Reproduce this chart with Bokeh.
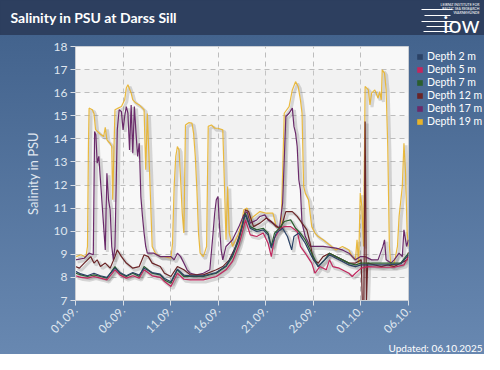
from bokeh.plotting import figure
from bokeh.layouts import column, row
from bokeh.models import ColumnDataSource, Range1d, FixedTicker, Label, Legend, LegendItem
from bokeh.transform import dodge
from bokeh.embed import file_html
from bokeh.resources import INLINE

# ---- data (days since 01.09., salinity PSU) ----
tick_days = [0, 5, 10, 15, 20, 25, 30, 35]
tick_labels = ["01.09.", "06.09.", "11.09.", "16.09.", "21.09.", "26.09.", "01.10.", "06.10."]
y_ticks = [7, 8, 9, 10, 11, 12, 13, 14, 15, 16, 17, 18]

names = ["Depth 2 m", "Depth 5 m", "Depth 7 m", "Depth 12 m", "Depth 17 m", "Depth 19 m"]
colors = ["#2b4266", "#c2275e", "#2a5e2e", "#6a2426", "#6a2a6a", "#e8b32a"]

t19 = [0.07, 0.58, 1.09, 1.26, 1.36, 1.43, 1.77, 1.94, 2.11, 2.62, 2.96, 3.13, 3.3, 3.64, 3.81, 3.91,
       4.05, 4.15, 4.49, 4.83, 5.17, 5.34, 5.51, 5.85, 6.02, 6.36, 6.7, 7.04, 7.21, 7.38, 7.55, 7.79,
       8.06, 8.4, 8.91, 9.35, 10.03, 10.2, 10.37, 10.54, 10.71, 10.88, 11.05, 11.22, 11.39, 11.56,
       11.9, 12.24, 12.41, 12.59, 12.76, 12.93, 13.1, 13.44, 13.78, 13.95, 14.29, 14.63, 14.97,
       15.48, 15.65, 15.82, 15.99, 16.16, 16.5, 16.84, 17.18, 17.52, 17.69, 18.03, 18.37, 18.71,
       19.39, 20.07, 20.75, 21.09, 21.6, 21.77, 21.94, 22.45, 22.79, 23.13, 23.4, 23.64, 23.81,
       23.98, 24.15, 24.49, 24.83, 25.17, 25.51, 26.02, 26.7, 27.38, 28.06, 28.74, 29.08, 29.42,
       29.59, 29.76, 29.93, 30.1, 30.27, 30.44, 30.78, 30.95, 31.12, 31.46, 31.8, 31.97, 32.14,
       32.24, 32.48, 32.65, 32.82, 32.99, 33.16, 33.5, 33.84, 34.01, 34.35, 34.52, 34.69, 34.86, 35.0]
s19 = [8.9, 8.98, 8.88, 9.34, 13.7, 15.33, 15.26, 15.1, 14.4, 14.2, 14.1, 14.5, 13.96, 13.8, 13.67, 11.36,
       13.7, 15.26, 15.33, 15.4, 15.69, 16.2, 16.34, 15.98, 15.69, 15.55, 15.47, 15.33, 15.26, 12.66, 15.1, 12.5,
       9.34, 9.05, 8.9, 8.9, 8.83, 9.48, 11.94, 13.24, 13.67, 13.52, 12.23, 10.78, 9.92, 14.6,
       14.7, 14.68, 14.25, 13.24, 11.79, 9.92, 9.05, 8.9, 9.34, 14.54, 14.6, 14.46, 14.46,
       14.39, 12.08, 9.63, 11.94, 9.92, 9.34, 9.63, 9.92, 10.49, 10.93, 11.0, 10.49, 10.64,
       10.85, 10.78, 10.78, 10.2, 10.13, 12.51, 15.11, 15.4, 16.12, 16.48, 16.27, 15.69, 15.11,
       11.94, 11.65, 11.36, 10.2, 9.92, 9.77, 9.63, 9.41, 9.19, 9.34, 9.19, 8.9, 8.76,
       9.63, 8.62, 11.65, 11.07, 9.34, 16.27, 16.12, 15.47, 15.98, 16.12, 15.76, 16.05, 15.69,
       16.99, 16.85, 16.12, 13.67, 9.34, 8.47, 8.62, 9.34, 10.64, 11.94, 13.81, 12.51, 9.92, 9.34]

t17 = [0.0, 0.92, 1.43, 1.87, 2.01, 2.14, 2.28, 2.45, 2.62, 2.96, 3.13, 3.3, 3.47, 3.64, 3.81, 3.98,
       4.15, 4.39, 4.59, 4.83, 5.0, 5.17, 5.34, 5.51, 5.68, 5.85, 6.02, 6.19, 6.36, 6.53, 6.7, 6.87,
       7.04, 7.21, 7.38, 7.55, 8.23, 8.91, 9.35, 10.03, 10.37, 10.71, 11.05, 11.39, 11.73, 12.07,
       12.75, 13.44, 14.12, 14.46, 14.63, 14.8, 14.97, 15.14, 15.31, 15.48, 15.82, 16.5, 17.18,
       17.69, 18.03, 18.37, 19.05, 19.39, 19.9, 20.24, 20.75, 21.43, 21.77, 22.11, 22.45, 22.79,
       22.96, 23.13, 23.3, 23.47, 23.64, 23.81, 24.15, 24.66, 25.51, 26.02, 27.38, 28.06, 28.74,
       29.42, 29.93, 30.44, 31.12, 31.8, 32.31, 32.48, 32.65, 33.16, 33.5, 34.01, 34.35, 34.52,
       34.8, 35.0]
s17 = [8.76, 8.83, 9.05, 8.98, 14.32, 14.17, 12.95, 13.24, 12.23, 10.2, 9.19, 12.51, 11.36, 10.93, 9.34, 8.76,
       9.34, 14.39, 15.26, 15.18, 14.39, 14.97, 15.4, 15.11, 13.52, 15.47, 13.38, 15.4, 14.25, 13.24, 13.81, 11.5,
       10.64, 9.92, 9.34, 9.05, 9.05, 8.9, 8.9, 8.9, 8.76, 9.05, 8.9, 8.62, 8.33, 8.18,
       8.11, 8.18, 8.33, 9.92, 10.78, 11.36, 11.5, 10.2, 9.19, 8.76, 9.34, 9.63, 10.2,
       10.71, 10.85, 10.35, 10.49, 10.64, 10.71, 10.49, 10.35, 10.13, 11.21, 14.97, 15.11, 15.33,
       14.54, 14.25, 13.67, 12.23, 11.79, 10.35, 9.77, 9.34, 9.34, 9.34, 9.27, 9.19, 9.05,
       8.76, 8.9, 8.9, 8.76, 8.76, 9.34, 9.63, 8.76, 8.62, 8.76, 9.05, 8.9, 10.06,
       9.34, 9.63]

t12 = [0.0, 0.41, 0.92, 1.26, 1.6, 1.94, 2.28, 2.62, 3.13, 3.64, 4.15, 4.39, 4.83, 5.34, 6.02, 6.7,
       7.21, 7.65, 8.06, 8.91, 9.35, 10.03, 10.71, 11.39, 12.07, 13.44, 14.8, 15.48, 16.16, 16.84,
       17.52, 17.86, 18.2, 18.71, 19.39, 20.07, 20.58, 21.09, 21.6, 22.11, 22.79, 23.3, 23.81,
       24.32, 24.66, 25.0, 25.51, 26.02, 26.7, 27.38, 28.06, 28.74, 29.42, 30.03, 30.14, 30.31,
       30.44, 30.58, 30.71, 31.46, 32.14, 32.82, 33.5, 34.18, 34.86, 35.0]
s12 = [8.47, 8.4, 8.62, 8.76, 8.9, 8.62, 8.76, 8.47, 8.62, 8.4, 8.9, 9.19, 8.9, 8.62, 8.4, 8.47,
       8.98, 8.9, 8.62, 8.47, 8.18, 8.04, 8.47, 8.33, 8.11, 8.11, 8.33, 8.47, 8.76, 9.34,
       10.2, 10.93, 10.85, 10.2, 10.35, 10.57, 10.42, 10.2, 10.13, 10.85, 10.85, 10.64, 10.35,
       10.06, 9.48, 8.76, 8.62, 8.9, 9.05, 8.9, 8.76, 8.62, 8.62, 8.76, 7.0, 7.0,
       14.75, 7.0, 8.62, 8.54, 8.47, 8.54, 8.47, 8.62, 8.76, 9.1]

t7 = [0.0, 0.58, 1.26, 1.94, 2.62, 3.3, 4.15, 4.66, 5.34, 6.02, 6.7, 7.21, 8.06, 8.91, 9.35, 10.03,
      10.71, 11.39, 12.07, 13.44, 14.8, 15.82, 16.5, 17.18, 17.69, 17.86, 18.37, 19.05, 19.73,
      20.24, 20.58, 20.92, 21.43, 21.94, 22.62, 23.13, 23.64, 24.15, 24.83, 25.51, 26.19, 26.7,
      27.38, 28.06, 28.74, 29.42, 30.03, 30.78, 31.46, 32.82, 34.18, 35.0]
s7 = [8.18, 8.11, 8.04, 8.11, 8.04, 7.97, 8.47, 8.18, 8.04, 8.18, 8.04, 8.47, 8.18, 8.11, 7.89, 7.75,
      8.33, 8.04, 8.04, 8.04, 8.18, 8.47, 8.9, 9.63, 10.49, 10.78, 10.2, 10.06, 10.13,
      9.92, 9.34, 9.92, 10.13, 10.42, 10.49, 10.13, 9.92, 9.63, 9.05, 8.47, 8.76, 9.05,
      8.9, 8.76, 8.62, 8.54, 8.62, 8.62, 8.62, 8.62, 8.62, 9.05]

t5 = [0.0, 0.58, 1.26, 1.94, 2.62, 3.3, 4.15, 4.66, 5.34, 6.02, 6.7, 7.21, 8.06, 8.91, 9.35, 10.03,
      10.71, 11.39, 12.07, 13.44, 14.8, 15.82, 16.5, 17.18, 17.69, 17.86, 18.37, 19.05, 19.73,
      20.24, 20.58, 20.92, 21.43, 21.94, 22.62, 23.3, 23.64, 24.15, 24.83, 25.17, 25.68, 26.36,
      26.7, 27.04, 27.72, 28.74, 29.08, 29.42, 30.03, 30.78, 32.14, 33.5, 34.52, 35.0]
s5 = [8.07, 8.0, 7.97, 8.04, 7.97, 7.89, 8.33, 8.11, 7.97, 8.07, 7.97, 8.33, 8.07, 8.0, 7.82, 7.61,
      8.18, 7.92, 7.89, 7.89, 8.04, 8.33, 8.69, 9.41, 10.2, 10.49, 9.84, 9.77, 9.92,
      9.48, 8.9, 9.7, 10.06, 10.2, 10.2, 9.99, 9.34, 9.05, 8.62, 8.18, 8.47, 8.33,
      8.76, 8.47, 8.4, 8.18, 8.04, 8.18, 8.4, 8.47, 8.44, 8.44, 8.54, 8.9]

t2 = [0.0, 0.58, 1.26, 1.94, 2.62, 3.3, 4.15, 4.66, 5.34, 6.02, 6.7, 7.21, 8.06, 8.91, 9.35, 10.03,
      10.71, 11.39, 12.07, 13.44, 14.8, 15.82, 16.5, 17.18, 17.69, 17.86, 18.37, 19.05, 19.73,
      20.24, 20.58, 21.09, 21.77, 22.28, 22.72, 22.96, 23.47, 24.15, 24.83, 25.51, 26.19, 26.7,
      27.38, 28.06, 28.74, 29.42, 30.03, 30.78, 31.46, 32.82, 34.18, 35.0]
s2 = [8.26, 8.15, 8.07, 8.18, 8.07, 8.0, 8.4, 8.21, 8.07, 8.21, 8.1, 8.4, 8.21, 8.14, 7.95, 7.81,
      8.36, 8.1, 8.07, 8.07, 8.21, 8.5, 8.98, 9.7, 10.57, 10.71, 10.13, 9.99, 10.06,
      9.84, 9.27, 9.92, 10.13, 9.77, 9.19, 9.77, 9.92, 9.48, 8.9, 8.47, 8.76, 8.98,
      8.83, 8.69, 8.54, 8.47, 8.54, 8.54, 8.54, 8.54, 8.58, 8.98]

series = [(t2, s2), (t5, s5), (t7, s7), (t12, s12), (t17, s17), (t19, s19)]

FONT = "Lato"
LIGHT = "#dfe5ee"
W = 484
HDR_H, MAIN_H, FOOT_H = 35, 305, 14
MAIN_W = 414


def blank(width, height):
    """A figure whose frame fills it entirely, measured in pixels."""
    f = figure(width=width, height=height, x_range=Range1d(0, width), y_range=Range1d(0, height),
               output_backend="svg", toolbar_location=None,
               min_border_left=0, min_border_right=0, min_border_top=0, min_border_bottom=0)
    f.axis.visible = False
    f.grid.visible = False
    f.outline_line_color = None
    f.background_fill_alpha = 0
    f.border_fill_alpha = 0
    return f


# ---- header strip ----
hdr = blank(W, HDR_H)
hdr.background_fill_color = "#2d3f5f"
hdr.background_fill_alpha = 1
hdr.add_layout(Label(x=10, y=18, text="Salinity in PSU at Darss Sill", text_color="#ffffff",
                     text_font=FONT, text_font_style="bold", text_font_size="14px",
                     text_baseline="middle", text_align="left"))
hdr.add_layout(Label(x=479, y=12, text="iow", text_color="#ffffff", text_font=FONT,
                     text_font_size="23px", text_baseline="middle", text_align="right"))
for k, line in enumerate(["LEIBNIZ INSTITUTE FOR", "BALTIC SEA RESEARCH", "WARNEMÜNDE"]):
    hdr.add_layout(Label(x=479, y=31 - k * 4, text=line, text_color="#ffffff", text_font=FONT,
                         text_font_size="3.5px", text_baseline="middle", text_align="right"))
hdr.segment(x0=[421, 424, 421, 426, 423], y0=[26, 20, 14, 9, 4],
            x1=[452, 450, 455, 450, 452], y1=[26, 20, 14, 9, 4], line_color="#ffffff", line_width=1)

# ---- main chart ----
p = figure(width=MAIN_W, height=MAIN_H, x_range=Range1d(0, 35), y_range=Range1d(7, 18),
           output_backend="svg", toolbar_location=None,
           min_border_left=75, min_border_right=6, min_border_top=11, min_border_bottom=40)
p.border_fill_alpha = 0
p.background_fill_color = "#f8f8f8"
p.outline_line_color = "#c9cdd3"

for g in (p.xgrid, p.ygrid):
    g.grid_line_color = "#bdbdbd"
    g.grid_line_dash = "5 4"
    g.grid_line_width = 1
p.ygrid.band_fill_color = "#dcdcdc"
p.ygrid.band_fill_alpha = 0.2

p.xaxis.ticker = FixedTicker(ticks=tick_days)
p.xaxis.major_label_overrides = {d: l for d, l in zip(tick_days, tick_labels)}
p.xaxis.major_label_orientation = 0.785
p.yaxis.ticker = FixedTicker(ticks=y_ticks)
p.yaxis.axis_label = "Salinity in PSU"
for ax in (p.xaxis, p.yaxis):
    ax.axis_line_color = "#c9cdd3"
    ax.major_tick_line_color = "#d8dde4"
    ax.major_tick_out = 5
    ax.major_tick_in = 0
    ax.minor_tick_line_color = None
    ax.major_label_text_color = LIGHT
    ax.major_label_text_font = FONT
    ax.major_label_text_font_size = "12px"
    ax.major_label_standoff = 3
p.xaxis.major_label_text_font_size = "11.5px"
p.yaxis.axis_label_text_color = LIGHT
p.yaxis.axis_label_text_font = FONT
p.yaxis.axis_label_text_font_size = "13px"
p.yaxis.axis_label_text_font_style = "normal"
p.yaxis.axis_label_standoff = 10

# shadows
for (t, s) in series:
    src = ColumnDataSource(dict(x=t, y=s))
    p.line(x=dodge("x", 0.22), y=dodge("y", -0.09), source=src, line_color="#7a7a7a",
           line_alpha=0.28, line_width=3)

# lines (deep first)
for i in [5, 4, 3, 2, 1, 0]:
    t, s = series[i]
    src = ColumnDataSource(dict(x=t, y=s))
    p.line(x="x", y="y", source=src, line_color=colors[i], line_width=1.2,
           line_alpha=0.9 if i == 5 else 1.0)

# ---- legend panel to the right ----
side = blank(W - MAIN_W, MAIN_H)
items = []
for name, c in zip(names, colors):
    # swatch proxy: one box placed outside the visible pixel range, only its style is shown
    r = side.quad(left=[-20], right=[-10], top=[-10], bottom=[-20], fill_color=c, line_color=None)
    items.append(LegendItem(label=name, renderers=[r]))
legend = Legend(items=items, location=(2, 173), orientation="vertical",
                background_fill_alpha=0, border_line_color=None,
                glyph_width=7, glyph_height=7, label_height=12, spacing=1,
                label_standoff=4, padding=0, margin=0,
                label_text_color="#ffffff", label_text_font=FONT,
                label_text_font_size="10.5px")
side.add_layout(legend, "center")

# ---- footer ----
foot = blank(W, FOOT_H)
foot.add_layout(Label(x=482, y=7, text="Updated: 06.10.2025", text_color="#ffffff",
                      text_font=FONT, text_font_size="10px",
                      text_baseline="middle", text_align="right"))

layout = column(hdr, row(p, side, spacing=0), foot, spacing=0)
layout.styles = {"background": "linear-gradient(to bottom, #2d3f5f 0px, #2d3f5f 35px, #43638d 35px, #6888b1 100%)"}
open("out.html", "w").write(file_html(layout, INLINE))
